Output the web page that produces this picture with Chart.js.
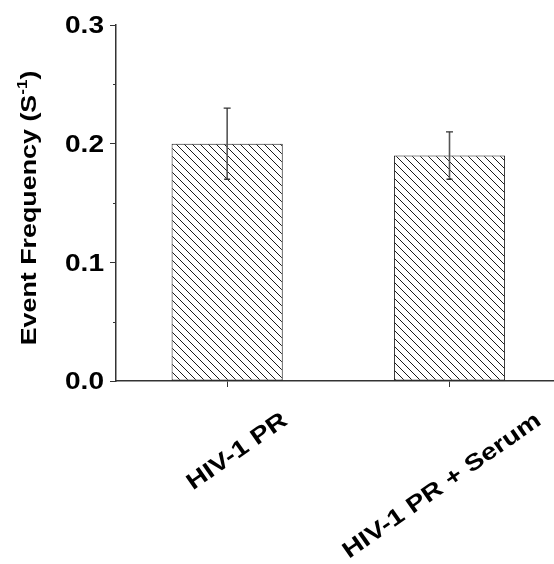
<!DOCTYPE html>
<html>
<head>
<meta charset="utf-8">
<script src="https://cdn.jsdelivr.net/npm/chart.js@4.4.1/dist/chart.umd.min.js"></script>
<style>
  html, body { margin: 0; padding: 0; background: #fff; }
  #wrap { width: 554px; height: 564px; }
</style>
</head>
<body>
<div id="wrap"><canvas id="chart"></canvas></div>
<script>
const categories = ["HIV-1 PR", "HIV-1 PR + Serum"];
const frequency = [0.2, 0.19];
const errorUp = [0.03, 0.02];
const errorDown = [0.03, 0.02];
const yTickValues = [0, 0.1, 0.2, 0.3];
const yMinorTicks = [0.05, 0.15, 0.25];
const yTitle = "Event Frequency (S";
const yTitleSup = "-1";
const yTitleEnd = ")";

const FONT = "'Liberation Sans', Arial, sans-serif";
const TICK_SIZE = 23;
const STRETCH = 1.22; // the text in the picture is drawn a bit wide
const AXIS_COLOR = "#333333";

const canvas = document.getElementById("chart");

// diagonal hatch like the original fill
function makeHatch() {
  const size = 8;
  const tile = document.createElement("canvas");
  tile.width = size;
  tile.height = size;
  const p = tile.getContext("2d");
  p.fillStyle = "#ffffff";
  p.fillRect(0, 0, size, size);
  p.strokeStyle = "#1a1a1a";
  p.lineWidth = 1;
  p.beginPath();
  p.moveTo(-1, -1); p.lineTo(size + 1, size + 1);
  p.moveTo(-1, size - 1); p.lineTo(1, size + 1);
  p.moveTo(size - 1, -1); p.lineTo(size + 1, 1);
  p.stroke();
  return canvas.getContext("2d").createPattern(tile, "repeat");
}

const errorBars = {
  id: "errorBars",
  afterDatasetsDraw(chart) {
    const { ctx } = chart;
    const y = chart.scales.y;
    chart.getDatasetMeta(0).data.forEach((bar, i) => {
      const top = y.getPixelForValue(frequency[i] + errorUp[i]);
      const bottom = y.getPixelForValue(frequency[i] - errorDown[i]);
      ctx.save();
      ctx.strokeStyle = "#555555";
      ctx.lineWidth = 1.6;
      ctx.beginPath();
      ctx.moveTo(bar.x, top);
      ctx.lineTo(bar.x, bottom);
      ctx.stroke();
      ctx.strokeStyle = "#333333";
      ctx.lineWidth = 1.3;
      ctx.beginPath();
      ctx.moveTo(bar.x - 3.5, top);
      ctx.lineTo(bar.x + 3.5, top);
      ctx.moveTo(bar.x - 3, bottom);
      ctx.lineTo(bar.x + 3, bottom);
      ctx.stroke();
      ctx.restore();
    });
  },
};

const axisText = {
  id: "axisText",
  afterDraw(chart) {
    const { ctx } = chart;
    const x = chart.scales.x;
    const y = chart.scales.y;

    // minor ticks on the y axis
    ctx.save();
    ctx.strokeStyle = AXIS_COLOR;
    ctx.lineWidth = 1;
    yMinorTicks.forEach((v) => {
      const py = Math.round(y.getPixelForValue(v)) + 0.5;
      ctx.beginPath();
      ctx.moveTo(y.right - 3, py);
      ctx.lineTo(y.right, py);
      ctx.stroke();
    });
    ctx.restore();

    ctx.fillStyle = "#000000";
    const capH = 0.716 * TICK_SIZE;

    // y tick labels
    ctx.font = "bold " + TICK_SIZE + "px " + FONT;
    yTickValues.forEach((v) => {
      ctx.save();
      ctx.translate(y.right - 12, y.getPixelForValue(v) + capH / 2);
      ctx.scale(STRETCH, 1);
      ctx.textAlign = "right";
      ctx.textBaseline = "alphabetic";
      ctx.fillText(v.toFixed(1), 0, 0);
      ctx.restore();
    });

    // rotated category labels, anchored about two thirds along the text
    const angle = (35 * Math.PI) / 180;
    categories.forEach((label, i) => {
      const w = ctx.measureText(label).width * STRETCH;
      const boxW = w * Math.cos(angle) + capH * Math.sin(angle);
      const boxH = w * Math.sin(angle) + capH * Math.cos(angle);
      const cx = x.getPixelForValue(i + 1) + 28 - 0.18 * boxW;
      ctx.save();
      ctx.translate(cx, x.top + 29 + boxH / 2);
      ctx.rotate(-angle);
      ctx.scale(STRETCH, 1);
      ctx.textAlign = "center";
      ctx.textBaseline = "alphabetic";
      ctx.fillText(label, 0, capH / 2);
      ctx.restore();
    });

    // y axis title with superscript
    ctx.save();
    ctx.translate(36, 208);
    ctx.rotate(-Math.PI / 2);
    ctx.scale(STRETCH, 1);
    ctx.textAlign = "left";
    ctx.textBaseline = "alphabetic";
    ctx.font = "bold 22px " + FONT;
    const mainW = ctx.measureText(yTitle).width;
    const endW = ctx.measureText(yTitleEnd).width;
    ctx.font = "bold 14px " + FONT;
    const supW = ctx.measureText(yTitleSup).width;
    const start = -(mainW + supW + endW) / 2;
    ctx.font = "bold 22px " + FONT;
    ctx.fillText(yTitle, start, 0);
    ctx.fillText(yTitleEnd, start + mainW + supW, 0);
    ctx.font = "bold 14px " + FONT;
    ctx.fillText(yTitleSup, start + mainW, -9);
    ctx.restore();
  },
};

new Chart(canvas, {
  type: "bar",
  data: {
    datasets: [
      {
        data: categories.map((c, i) => ({ x: i + 1, y: frequency[i] })),
        backgroundColor: makeHatch(),
        borderColor: "#1a1a1a",
        borderWidth: 1,
        borderSkipped: false,
        categoryPercentage: 1,
        barPercentage: 0.5,
      },
    ],
  },
  options: {
    responsive: true,
    maintainAspectRatio: false,
    animation: false,
    devicePixelRatio: 1,
    layout: { padding: { top: 25, right: 0, bottom: 0, left: 0 } },
    plugins: {
      legend: { display: false },
      tooltip: { enabled: false },
    },
    scales: {
      x: {
        type: "linear",
        min: 0.5,
        max: 2.47,
        offset: false,
        afterBuildTicks: (s) => {
          s.ticks = categories.map((c, i) => ({ value: i + 1 }));
        },
        afterFit: (s) => {
          s.height = 183;
        },
        ticks: { display: false },
        grid: {
          offset: false,
          drawOnChartArea: false,
          tickLength: 6,
          color: AXIS_COLOR,
          tickWidth: 1,
        },
        border: { color: AXIS_COLOR, width: 1.5 },
      },
      y: {
        min: 0,
        max: 0.3,
        afterBuildTicks: (s) => {
          s.ticks = yTickValues.map((v) => ({ value: v }));
        },
        afterFit: (s) => {
          s.width = 116;
        },
        ticks: { display: false },
        grid: {
          drawOnChartArea: false,
          tickLength: 6,
          color: AXIS_COLOR,
          tickWidth: 1,
        },
        border: { color: AXIS_COLOR, width: 1.5 },
      },
    },
  },
  plugins: [errorBars, axisText],
});
</script>
</body>
</html>
